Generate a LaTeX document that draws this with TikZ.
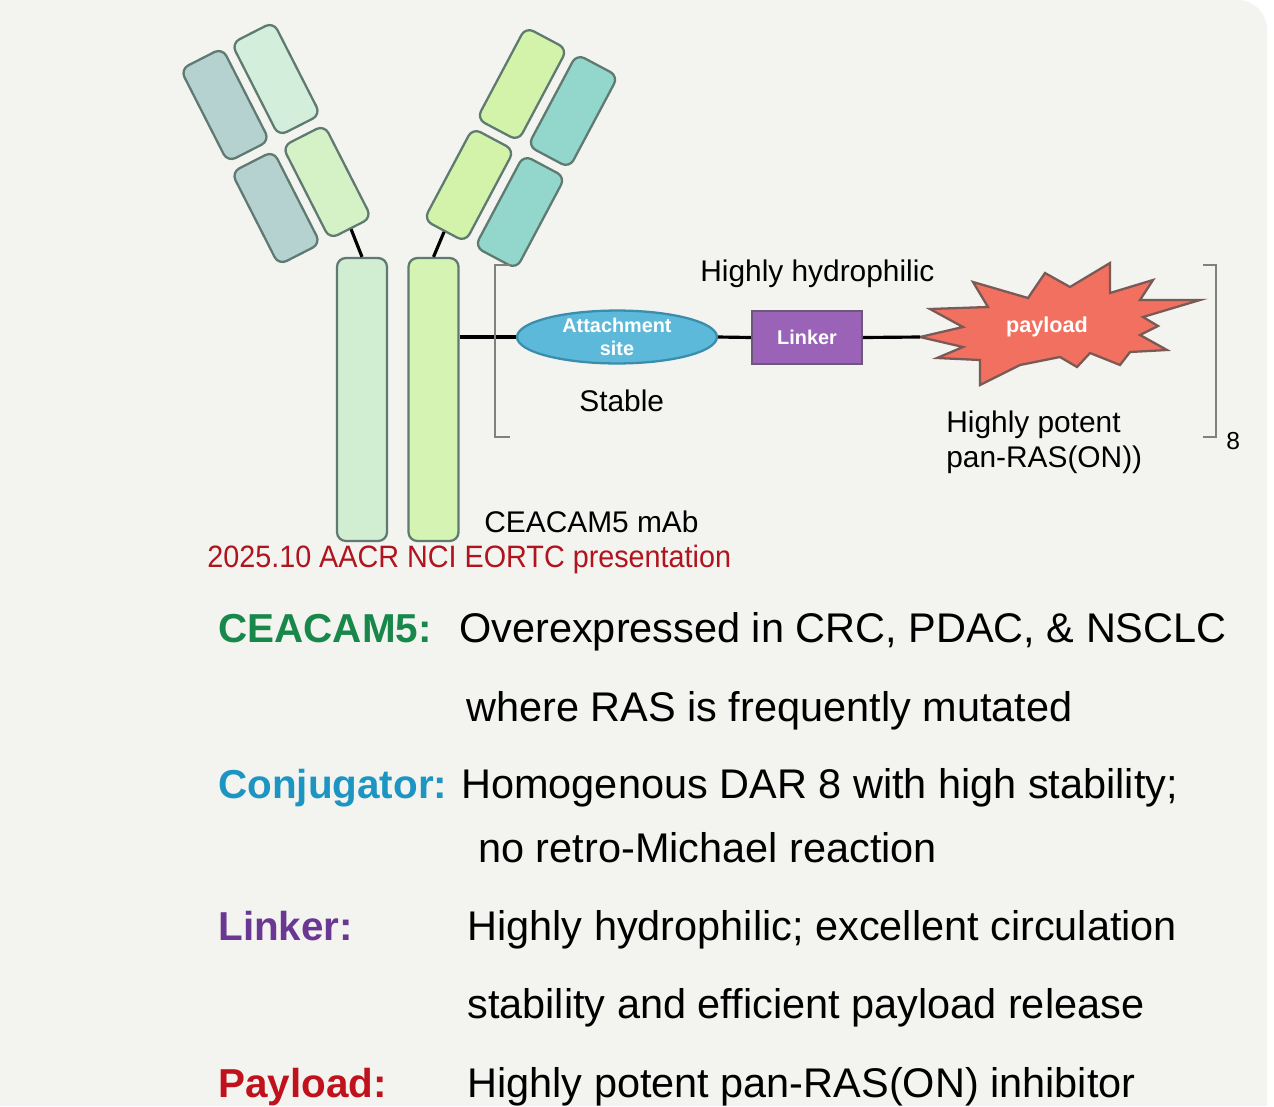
\documentclass[tikz,border=0pt]{standalone}
\usepackage{fontspec}
\setmainfont{Liberation Sans}
\newfontfamily\narrowfont{Liberation Sans}[FakeStretch=0.93]
\usetikzlibrary{positioning,shapes.geometric}

\definecolor{bgcol}{HTML}{F3F3EF}
\definecolor{edgecol}{HTML}{5F7A70}
\definecolor{greyblue}{HTML}{B6D2D0}
\definecolor{mint}{HTML}{D3EFDC}
\definecolor{palegreen}{HTML}{D5F1C6}
\definecolor{lime}{HTML}{D3F3AA}
\definecolor{teal}{HTML}{92D6CC}
\definecolor{stemleft}{HTML}{D2EED2}
\definecolor{stemright}{HTML}{D5F3B2}
\definecolor{sitecol}{HTML}{5DB9D9}
\definecolor{siteedge}{HTML}{3A8DAD}
\definecolor{linkcol}{HTML}{9A63B7}
\definecolor{linkedge}{HTML}{6C5878}
\definecolor{burstcol}{HTML}{F2705F}
\definecolor{burstedge}{HTML}{7A5A55}
\definecolor{keygreen}{HTML}{18874A}
\definecolor{keyblue}{HTML}{1C95C3}
\definecolor{keypurple}{HTML}{6A3893}
\definecolor{keyred}{HTML}{C0121C}
\definecolor{notered}{HTML}{B0141E}

\begin{document}
\begin{tikzpicture}[x=0.02cm, y=-0.02cm,
	armbox/.style={draw=edgecol, line width=1.3pt, rounded corners=5pt,
		minimum width=0.94cm, minimum height=2.08cm, inner sep=0pt},
	stembox/.style={draw=edgecol, line width=1.3pt, rounded corners=5pt,
		minimum width=1cm, minimum height=5.66cm, inner sep=0pt},
	bond/.style={line width=1.8pt, black},
	lbl/.style={anchor=base west, inner sep=0pt, font=\fontsize{17}{20}\selectfont},
	inlbl/.style={text=white, font=\bfseries\fontsize{11.3}{12}\selectfont, align=center},
	keytext/.style={anchor=base west, inner sep=0pt, font=\bfseries\fontsize{23}{28}\selectfont},
	desctext/.style={anchor=base west, inner sep=0pt, font=\fontsize{23.6}{28}\selectfont}]

	% background
	\fill[white] (0,0) rectangle (1274,1106);
	\fill[bgcol] (0,0) -- (1238,0) to[out=0,in=90] (1267,30) -- (1267,1106) -- (0,1106) -- cycle;

	% left arm
	\node[armbox, fill=greyblue, rotate=27] (lt1) at (225,105) {};
	\node[armbox, fill=mint, rotate=27] (lt2) at (276,79) {};
	\node[armbox, fill=greyblue, rotate=27] (lb1) at (276,208) {};
	\node[armbox, fill=palegreen, rotate=27] (lb2) at (327,182) {};

	% right arm
	\node[armbox, fill=lime, rotate=-28] (rt2) at (522,84) {};
	\node[armbox, fill=teal, rotate=-28] (rt1) at (573,111) {};
	\node[armbox, fill=lime, rotate=-28] (rb2) at (469,185) {};
	\node[armbox, fill=teal, rotate=-28] (rb1) at (520,212) {};

	% stems
	\node[stembox, fill=stemleft] (stemL) at (362,399.5) {};
	\node[stembox, fill=stemright] (stemR) at (433.5,399.5) {};
	\draw[bond] (lb2.south) -- (stemL.north);
	\draw[bond] (rb2.south) -- (stemR.north);

	% conjugate
	\node[ellipse, draw=siteedge, line width=1.3pt, fill=sitecol, minimum width=4cm,
		minimum height=1.04cm, inner sep=0pt, inlbl] (site) at (617,337)
		{Attachment\\[1pt]site};
	\node[draw=linkedge, line width=1.3pt, fill=linkcol, minimum width=2.2cm,
		minimum height=1.06cm, inner sep=0pt, inlbl] (linker) at (807,337.5) {Linker};
	\draw[burstedge, line width=1.3pt, fill=burstcol, line join=miter]
		(920,337) -- (963,327) -- (930,309) -- (988,307) -- (973,282) -- (1028,298)
		-- (1045,273) -- (1070,287) -- (1110,263) -- (1110,293) -- (1153,280)
		-- (1140,300) -- (1200,300) -- (1143,317) -- (1158,326) -- (1140,335)
		-- (1167,350) -- (1130,352) -- (1120,365) -- (1090,353) -- (1077,367)
		-- (1060,357) -- (1020,365) -- (980,385) -- (980,360) -- (937,358)
		-- (963,347) -- cycle;
	\coordinate (burstL) at (920,337);
	\node[inlbl, font=\bfseries\fontsize{12.3}{14}\selectfont] (payload) at (1047,327) {payload};
	\draw[bond] (stemR.east |- site.west) -- (site.west);
	\draw[bond] (site.east) -- (linker.west);
	\draw[bond] (linker.east) -- (burstL);

	% brackets
	\draw[gray, line width=1.1pt] (510,265) -- (495,265) -- (495,437) -- (510,437);
	\draw[gray, line width=1.1pt] (1203,265) -- (1216,265) -- (1216,437) -- (1203,437);
	\node[lbl, font=\fontsize{14}{16}\selectfont] (dar) at (1226,449) {8};

	% labels
	\node[lbl] (hydro) at (700,281) {Highly hydrophilic};
	\node[lbl] (stable) at (579,411) {Stable};
	\node[lbl] (potent) at (946,432) {Highly potent};
	\node[lbl] (panras) at (946,467) {pan-RAS(ON))};
	\node[lbl] (mab) at (484,532) {CEACAM5 mAb};
	\node[lbl, text=notered, font=\narrowfont\fontsize{17.6}{20}\selectfont] (source) at (207,567)
		{2025.10 AACR NCI EORTC presentation};

	% description
	\node[keytext, text=keygreen] (k1) at (218,642) {CEACAM5:};
	\node[desctext] (d1) at (459,642) {Overexpressed in CRC, PDAC, \& NSCLC};
	\node[desctext] (d2) at (466,721) {where RAS is frequently mutated};
	\node[keytext, text=keyblue] (k2) at (218,798) {Conjugator:};
	\node[desctext] (d3) at (461,798) {Homogenous DAR 8 with high stability;};
	\node[desctext] (d4) at (478,862) {no retro-Michael reaction};
	\node[keytext, text=keypurple] (k3) at (218,940) {Linker:};
	\node[desctext] (d5) at (467,940) {Highly hydrophilic; excellent circulation};
	\node[desctext] (d6) at (467,1018) {stability and efficient payload release};
	\node[keytext, text=keyred] (k4) at (218,1097) {Payload:};
	\node[desctext] (d7) at (467,1097) {Highly potent pan-RAS(ON) inhibitor};
\end{tikzpicture}
\end{document}
